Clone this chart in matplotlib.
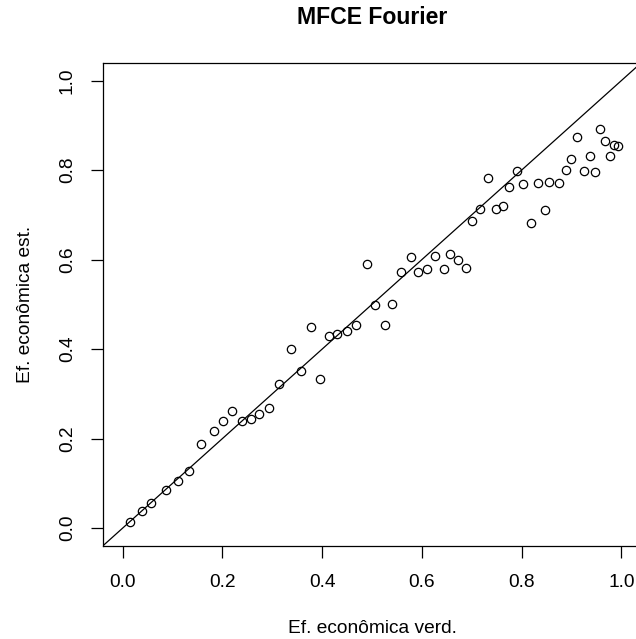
import matplotlib
matplotlib.use("Agg")
import matplotlib.pyplot as plt

# True vs. estimated economic efficiency (MFCE, Fourier form)
ef_verd = [0.014, 0.038, 0.056, 0.086, 0.110, 0.134, 0.158, 0.184, 0.202, 0.220,
           0.240, 0.258, 0.273, 0.294, 0.314, 0.337, 0.357, 0.377, 0.395, 0.414,
           0.430, 0.450, 0.468, 0.489, 0.506, 0.526, 0.540, 0.559, 0.578, 0.593,
           0.611, 0.627, 0.644, 0.657, 0.672, 0.688, 0.701, 0.717, 0.732, 0.749,
           0.762, 0.774, 0.790, 0.802, 0.819, 0.833, 0.847, 0.855, 0.874, 0.889,
           0.900, 0.911, 0.926, 0.937, 0.948, 0.958, 0.967, 0.978, 0.985, 0.993]
ef_est = [0.013, 0.039, 0.057, 0.086, 0.105, 0.128, 0.189, 0.217, 0.239, 0.261,
          0.239, 0.243, 0.256, 0.268, 0.322, 0.401, 0.350, 0.449, 0.334, 0.430,
          0.433, 0.441, 0.454, 0.591, 0.499, 0.454, 0.500, 0.573, 0.605, 0.573,
          0.579, 0.607, 0.579, 0.612, 0.599, 0.582, 0.686, 0.713, 0.782, 0.714,
          0.719, 0.762, 0.799, 0.768, 0.681, 0.772, 0.710, 0.774, 0.772, 0.801,
          0.824, 0.875, 0.799, 0.832, 0.796, 0.891, 0.865, 0.832, 0.857, 0.853]

title = "MFCE Fourier"
x_label = "Ef. econômica verd."
y_label = "Ef. econômica est."
ticks = [0.0, 0.2, 0.4, 0.6, 0.8, 1.0]
tick_labels = ["0.0", "0.2", "0.4", "0.6", "0.8", "1.0"]

plt.rcParams["font.family"] = ["Liberation Sans", "DejaVu Sans"]

W, H = 636, 639
fig = plt.figure(figsize=(W / 100, H / 100), dpi=100)
left, right, top, bottom = 102.7, 641.3, 62.7, 546.0
ax = fig.add_axes([left / W, (H - bottom) / H, (right - left) / W, (bottom - top) / H])

ax.plot(ef_verd, ef_est, linestyle="none", marker="o", markersize=6.0,
        markerfacecolor="none", markeredgecolor="black", markeredgewidth=0.9,
        clip_on=False)
ax.axline((0, 0), slope=1, color="black", linewidth=0.9)

ax.set_xlim(-0.04, 1.04)
ax.set_ylim(-0.04, 1.04)

for side in ("top", "bottom", "left", "right"):
    ax.spines[side].set_linewidth(0.9)
    ax.spines[side].set_color("black")

fs = 13.8
ax.set_xticks(ticks)
ax.set_xticklabels(tick_labels, fontsize=fs)
ax.set_yticks(ticks)
ax.set_yticklabels(tick_labels, fontsize=fs, rotation=90, va="center")
ax.tick_params(axis="both", direction="out", length=8.4, width=0.9, color="black")
ax.tick_params(axis="x", pad=11.5)
ax.tick_params(axis="y", pad=11.0)

ax.set_xlabel(x_label, fontsize=fs, va="baseline")
ax.xaxis.set_label_coords(0.5, -(633.4 - bottom) / (bottom - top))
ax.set_ylabel(y_label, fontsize=fs, va="baseline", rotation=90)
ax.yaxis.set_label_coords(-(left - 30.0) / (right - left), 0.5)

ax.set_title(title, fontsize=16.6, fontweight="bold", pad=(top - 24.2) * 0.72)

fig.savefig("out.png", dpi=100)
